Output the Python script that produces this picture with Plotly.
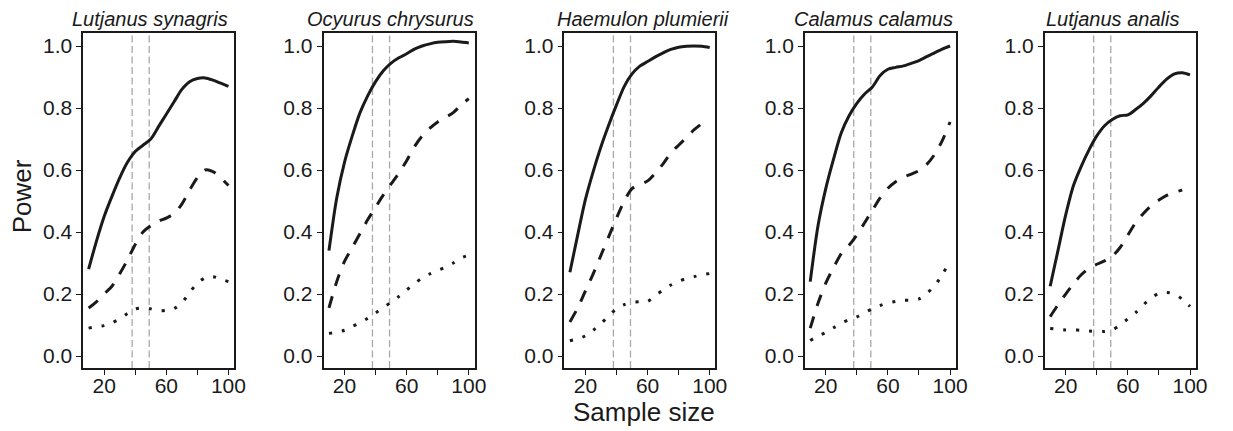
import plotly.graph_objects as go

# ---------------- data ----------------
species = ["Lutjanus synagris", "Ocyurus chrysurus", "Haemulon plumierii",
           "Calamus calamus", "Lutjanus analis"]

x_full = [10, 15, 20, 25, 30, 35, 40, 45, 50, 55, 60, 65, 70, 75, 80, 85, 90, 95, 100]

ref_lines = [38, 49]

x_ticks = [20, 40, 60, 80, 100]
x_tick_text = ["20", "", "60", "", "100"]
y_ticks = [0.0, 0.2, 0.4, 0.6, 0.8, 1.0]

# solid curves
solid_synagris = [0.28, 0.37, 0.45, 0.515, 0.575, 0.625, 0.66, 0.68, 0.70, 0.74, 0.78, 0.82, 0.86, 0.885, 0.895, 0.897, 0.89, 0.88, 0.87]
solid_chrysurus = [0.34, 0.51, 0.625, 0.71, 0.785, 0.84, 0.885, 0.92, 0.945, 0.962, 0.975, 0.99, 1.0, 1.007, 1.012, 1.014, 1.015, 1.013, 1.01]
solid_plumierii = [0.27, 0.39, 0.505, 0.595, 0.675, 0.745, 0.81, 0.87, 0.91, 0.935, 0.95, 0.965, 0.978, 0.989, 0.996, 0.999, 1.0, 0.999, 0.995]
solid_calamus = [0.24, 0.42, 0.54, 0.635, 0.72, 0.775, 0.815, 0.845, 0.868, 0.905, 0.925, 0.931, 0.936, 0.944, 0.953, 0.966, 0.978, 0.99, 1.0]
solid_analis = [0.225, 0.34, 0.455, 0.55, 0.612, 0.665, 0.71, 0.743, 0.763, 0.775, 0.778, 0.795, 0.815, 0.84, 0.868, 0.893, 0.91, 0.914, 0.907]

# dashed curves
dashed_synagris = [0.155, 0.175, 0.20, 0.225, 0.265, 0.31, 0.36, 0.40, 0.42, 0.435, 0.445, 0.46, 0.49, 0.535, 0.575, 0.60, 0.595, 0.575, 0.55]
dashed_chrysurus = [0.155, 0.24, 0.305, 0.35, 0.395, 0.44, 0.48, 0.52, 0.555, 0.59, 0.63, 0.675, 0.71, 0.735, 0.755, 0.77, 0.785, 0.81, 0.83]
dashed_plumierii = [0.11, 0.155, 0.21, 0.265, 0.325, 0.385, 0.445, 0.5, 0.54, 0.553, 0.565, 0.59, 0.62, 0.655, 0.68, 0.705, 0.73, 0.75]
dashed_calamus = [0.09, 0.17, 0.235, 0.285, 0.33, 0.357, 0.39, 0.43, 0.47, 0.51, 0.541, 0.562, 0.577, 0.587, 0.598, 0.618, 0.65, 0.695, 0.755]
dashed_analis = [0.127, 0.165, 0.2, 0.233, 0.262, 0.283, 0.296, 0.307, 0.322, 0.35, 0.39, 0.43, 0.46, 0.485, 0.503, 0.518, 0.528, 0.535]

# dotted curves
dotted_synagris = [0.09, 0.095, 0.098, 0.107, 0.12, 0.137, 0.152, 0.155, 0.152, 0.146, 0.147, 0.153, 0.172, 0.205, 0.235, 0.252, 0.256, 0.248, 0.24]
dotted_chrysurus = [0.073, 0.077, 0.083, 0.095, 0.108, 0.122, 0.139, 0.156, 0.174, 0.192, 0.213, 0.233, 0.252, 0.265, 0.276, 0.287, 0.3, 0.316, 0.325]
dotted_plumierii = [0.049, 0.056, 0.065, 0.083, 0.104, 0.13, 0.152, 0.166, 0.173, 0.175, 0.176, 0.195, 0.213, 0.229, 0.241, 0.25, 0.256, 0.262, 0.266]
dotted_calamus = [0.05, 0.064, 0.076, 0.091, 0.106, 0.117, 0.126, 0.14, 0.152, 0.163, 0.171, 0.176, 0.18, 0.18, 0.184, 0.202, 0.226, 0.263, 0.305]
dotted_analis = [0.089, 0.086, 0.084, 0.084, 0.083, 0.081, 0.079, 0.079, 0.084, 0.1, 0.12, 0.14, 0.165, 0.188, 0.202, 0.205, 0.2, 0.183, 0.16]

solid_all = [solid_synagris, solid_chrysurus, solid_plumierii, solid_calamus, solid_analis]
dashed_all = [dashed_synagris, dashed_chrysurus, dashed_plumierii, dashed_calamus, dashed_analis]
dotted_all = [dotted_synagris, dotted_chrysurus, dotted_plumierii, dotted_calamus, dotted_analis]

# ---------------- layout geometry ----------------
W, H = 1233, 431
FONT = "Liberation Sans, Arial, Helvetica, sans-serif"
panel_left_px = [84, 326.7, 570, 812.7, 1055]
panel_w_px = 152.5
title_center_px = [151, 394, 649, 882.5, 1123.5]
ydom = [(H - 368) / H, (H - 33) / H]

fig = go.Figure()
layout = dict(
    width=W, height=H,
    margin=dict(l=0, r=0, t=0, b=0),
    paper_bgcolor="white", plot_bgcolor="white",
    showlegend=False,
    font=dict(family=FONT, color="#1a1a1a"),
)
shapes = []
annotations = []
ink = "#1a1a1a"

for i in range(5):
    n = "" if i == 0 else str(i + 1)
    xa, ya = "x" + n, "y" + n
    for series, dash in ((solid_all[i], "solid"), (dashed_all[i], "12px,11px"), (dotted_all[i], "3px,10px")):
        fig.add_trace(go.Scatter(
            x=x_full[:len(series)], y=series, mode="lines",
            line=dict(color=ink, width=3, dash=dash, shape="spline", smoothing=0.8),
            xaxis=xa, yaxis=ya, hoverinfo="skip"))
    for rl in ref_lines:
        shapes.append(dict(type="line", xref=xa, yref=ya + " domain", x0=rl, x1=rl, y0=0, y1=1,
                           line=dict(color="#a8a8a8", width=1.3, dash="7px,3.5px"), layer="below"))
    x0 = panel_left_px[i] / W
    x1 = (panel_left_px[i] + panel_w_px) / W
    axis_common = dict(showline=True, linecolor=ink, linewidth=1.5, mirror=True,
                       showgrid=False, zeroline=False, ticks="outside", ticklen=5,
                       tickwidth=1.2, tickcolor=ink,
                       tickfont=dict(size=21, family=FONT, color=ink))
    layout["xaxis" + n] = dict(axis_common, domain=[x0, x1], range=[6.5, 103.7],
                               tickvals=x_ticks, ticktext=x_tick_text, anchor=ya,
                               ticklabelstandoff=-7)
    layout["yaxis" + n] = dict(axis_common, domain=ydom, range=[-0.0387, 1.042],
                               tickvals=y_ticks, tickformat=".1f", anchor=xa)
    annotations.append(dict(text="<i>" + species[i] + "</i>", xref="paper", yref="paper",
                            x=title_center_px[i] / W, y=(H - 18.5) / H,
                            xanchor="center", yanchor="middle", showarrow=False,
                            font=dict(size=20, family=FONT, color=ink)))

annotations.append(dict(text="Power", xref="paper", yref="paper", x=22 / W, y=(H - 196.5) / H,
                        xanchor="center", yanchor="middle", textangle=-90, showarrow=False,
                        font=dict(size=26, family=FONT, color=ink)))
annotations.append(dict(text="Sample size", xref="paper", yref="paper", x=650 / W, y=(H - 412) / H,
                        xanchor="center", yanchor="middle", showarrow=False,
                        font=dict(size=26, family=FONT, color=ink)))

layout["shapes"] = shapes
layout["annotations"] = annotations
fig.update_layout(**layout)
fig.write_html("out.html", config={"displayModeBar": False},
               post_script="document.body.style.margin='0';document.body.style.overflow='hidden';")
